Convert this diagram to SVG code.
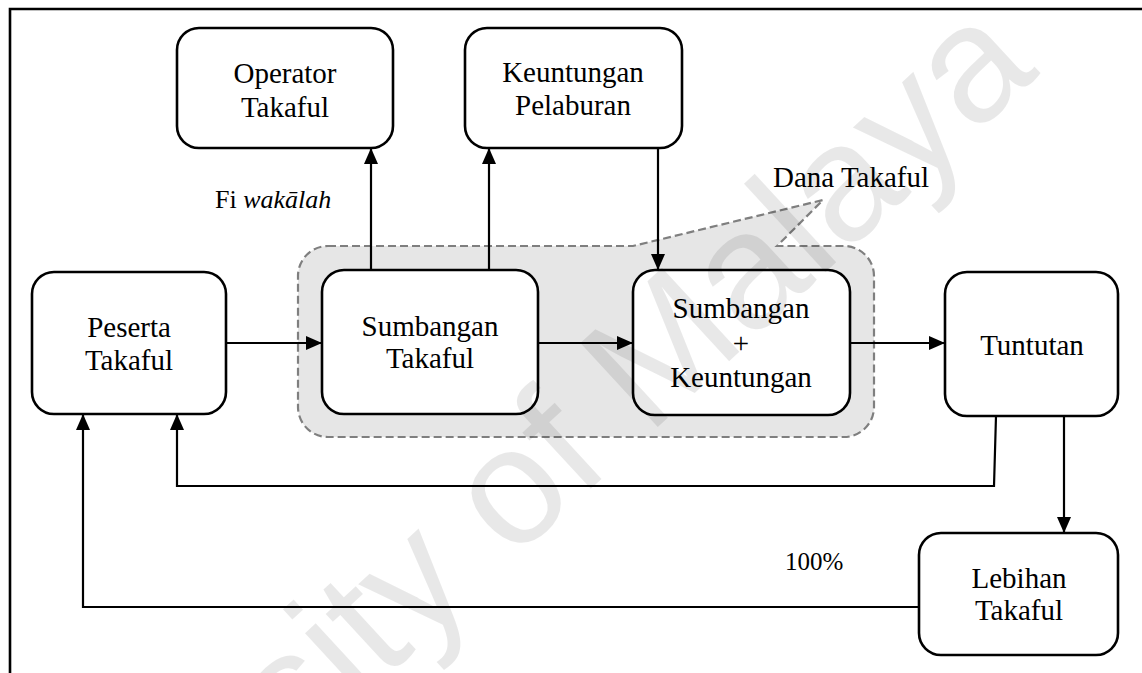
<svg xmlns="http://www.w3.org/2000/svg" width="1142" height="673" viewBox="0 0 1142 673">
  <style>
    .box { fill: #ffffff; stroke: #000000; stroke-width: 2.6; }
    .lbl { font-size: 29px; fill: #000000; text-anchor: middle; }
    .note { font-size: 26px; fill: #000000; }
    .big { font-size: 29px; }
    .small { font-size: 25px; }
    .wire { fill: none; stroke: #000000; stroke-width: 2.2; }
    .frame { fill: none; stroke: #000000; stroke-width: 2.6; }
    .fund { fill: #e6e6e6; stroke: #7f7f7f; stroke-width: 2.2; stroke-dasharray: 8 4; }
    .mark { font-size: 166px; fill: #000000; fill-opacity: 0.09; }
  </style>
  <defs>
    <marker id="arrow" markerUnits="userSpaceOnUse" markerWidth="16" markerHeight="14" refX="16" refY="7" orient="auto">
      <path d="M0,0 L16,7 L0,14 Z" fill="#000000"/>
    </marker>
  </defs>

  <rect width="1142" height="673" fill="#ffffff"/>

  <!-- page frame: top and left rules -->
  <path class="frame" d="M10,673 L10,9 L1142,9"/>

  <g font-family="Liberation Serif, serif">
    <!-- takaful fund area with its callout -->
    <g id="dana-takaful">
      <path class="fund" d="M328,246 L633,246 L823,200 L777,246 L844,246 A30,30 0 0 1 874,276 L874,407 A30,30 0 0 1 844,437 L328,437 A30,30 0 0 1 298,407 L298,276 A30,30 0 0 1 328,246 Z"/>
      <text class="note big" x="773" y="187">Dana Takaful</text>
    </g>

    <!-- connectors -->
    <g id="connectors">
      <line class="wire" x1="371" y1="270" x2="371" y2="148" marker-end="url(#arrow)"/>
      <line class="wire" x1="489" y1="270" x2="489" y2="148" marker-end="url(#arrow)"/>
      <line class="wire" x1="658" y1="148" x2="658" y2="270" marker-end="url(#arrow)"/>
      <line class="wire" x1="226" y1="343" x2="322" y2="343" marker-end="url(#arrow)"/>
      <line class="wire" x1="538" y1="343" x2="633" y2="343" marker-end="url(#arrow)"/>
      <line class="wire" x1="850" y1="343" x2="945" y2="343" marker-end="url(#arrow)"/>
      <path class="wire" d="M996,416 L994,486 L177,486 L177,414" marker-end="url(#arrow)"/>
      <line class="wire" x1="1064" y1="416" x2="1064" y2="533" marker-end="url(#arrow)"/>
      <path class="wire" d="M919,607 L83,607 L83,414" marker-end="url(#arrow)"/>
      <text class="note" x="215" y="208">Fi <tspan font-style="italic">wakālah</tspan></text>
      <text class="note small" x="785" y="570">100%</text>
    </g>

    <g id="operator-takaful">
      <rect class="box" x="177" y="28" width="216" height="120" rx="22"/>
      <text class="lbl" x="285" y="83">Operator</text>
      <text class="lbl" x="285" y="117">Takaful</text>
    </g>

    <g id="keuntungan-pelaburan">
      <rect class="box" x="465" y="28" width="217" height="120" rx="22"/>
      <text class="lbl" x="573" y="82">Keuntungan</text>
      <text class="lbl" x="573" y="115">Pelaburan</text>
    </g>

    <g id="peserta-takaful">
      <rect class="box" x="32" y="272" width="194" height="142" rx="22"/>
      <text class="lbl" x="129" y="337">Peserta</text>
      <text class="lbl" x="129" y="370">Takaful</text>
    </g>

    <g id="sumbangan-takaful">
      <rect class="box" x="322" y="270" width="216" height="144" rx="22"/>
      <text class="lbl" x="430" y="336">Sumbangan</text>
      <text class="lbl" x="430" y="368">Takaful</text>
    </g>

    <g id="sumbangan-keuntungan">
      <rect class="box" x="633" y="270" width="217" height="145" rx="22"/>
      <text class="lbl" x="741" y="318">Sumbangan</text>
      <text class="lbl" x="741" y="353">+</text>
      <text class="lbl" x="741" y="387">Keuntungan</text>
    </g>

    <g id="tuntutan">
      <rect class="box" x="945" y="272" width="173" height="144" rx="22"/>
      <text class="lbl" x="1032" y="355">Tuntutan</text>
    </g>

    <g id="lebihan-takaful">
      <rect class="box" x="919" y="533" width="199" height="122" rx="22"/>
      <text class="lbl" x="1019" y="588">Lebihan</text>
      <text class="lbl" x="1019" y="620">Takaful</text>
    </g>
  </g>

  <!-- watermark -->
  <text class="mark" font-family="Liberation Sans, sans-serif" transform="translate(546,530) rotate(-42.7)" x="-821" y="0">University of Malaya</text>
</svg>
